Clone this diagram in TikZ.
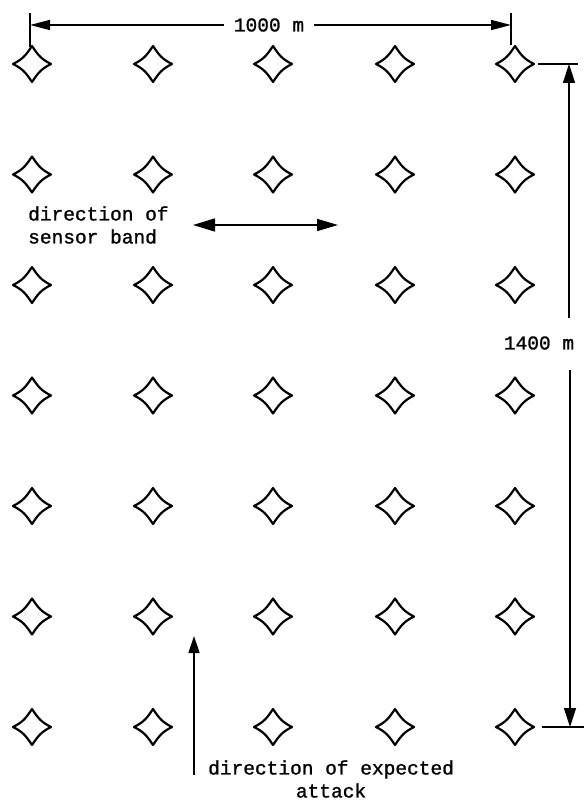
\documentclass[tikz,border=0pt]{standalone}
\usepackage{fontspec}
\setmonofont[FakeBold=1.2]{Liberation Mono}
\usetikzlibrary{arrows.meta}
\begin{document}
\begin{tikzpicture}[x=1pt,y=-1pt,
  starnode/.style={inner sep=0pt,outer sep=0pt,minimum width=38pt,minimum height=36pt},
  starline/.style={line width=2.2pt,line join=round},
  lbl/.style={font=\ttfamily\fontsize{19.5}{23}\selectfont,inner sep=0pt},
  dimline/.style={line width=1.5pt},
  tipH/.style={-{Triangle[length=20pt,width=10pt]}},
  tipV/.style={-{Triangle[length=19pt,width=12pt]}},
  tipA/.style={-{Triangle[length=17pt,width=11pt]}},
  tipD/.style={{Triangle[length=22pt,width=13pt]}-{Triangle[length=21pt,width=12pt]}}]
\useasboundingbox (0,0) rectangle (584,802);

% grid of sensors
\foreach \c [count=\i] in {32,153,273,395,515}{
  \foreach \r [count=\j] in {64,174.5,285,395.5,506,616.5,727}{
    \node[starnode] (s\i\j) at (\c,\r) {};
    \draw[starline] (s\i\j.north) .. controls +(6,9) and +(-10,-5) .. (s\i\j.east)
      .. controls +(-10,5) and +(6,-9) .. (s\i\j.south)
      .. controls +(-6,-9) and +(10,5) .. (s\i\j.west)
      .. controls +(10,-5) and +(-6,9) .. (s\i\j.north) -- cycle;
  }
}

% top dimension 1000 m
\node[lbl,inner xsep=10pt] (d1000) at (269,25) {1000 m};
\coordinate (tlT) at (30,13);
\coordinate (tlB) at (30,47);
\coordinate (trT) at (511,13);
\coordinate (trB) at (511,45);
\coordinate (tlA) at (30,25);
\coordinate (trA) at (511,25);
\draw[dimline] (tlT) -- (tlB);
\draw[dimline] (trT) -- (trB);
\draw[dimline,tipH] (d1000.west) -- (tlA);
\draw[dimline,tipH] (d1000.east) -- (trA);

% right dimension 1400 m
\node[lbl] (d1400) at (539,343) {1400 m};
\coordinate (rtL) at (538,64);
\coordinate (rtR) at (578,64);
\coordinate (rbL) at (542,727);
\coordinate (rbR) at (584,727);
\coordinate (rvT) at (569,64);
\coordinate (rvU) at (569,318);
\coordinate (rvD) at (570,370);
\coordinate (rvB) at (570,727);
\draw[dimline] (rtL) -- (rtR);
\draw[dimline] (rbL) -- (rbR);
\draw[dimline,tipV] (rvU) -- (rvT);
\draw[dimline,tipV] (rvD) -- (rvB);

% direction of sensor band
\node[lbl,align=left,anchor=west] (band) at (28,225) {direction of\\sensor band};
\coordinate (bL) at (193,225);
\coordinate (bR) at (338,225);
\draw[dimline,tipD] (bL) -- (bR);

% direction of expected attack
\node[lbl,align=center,anchor=west] (attack) at (208,779) {direction of expected\\attack};
\coordinate (aB) at (194,775);
\coordinate (aT) at (194,636);
\draw[dimline,tipA] (aB) -- (aT);
\end{tikzpicture}
\end{document}
